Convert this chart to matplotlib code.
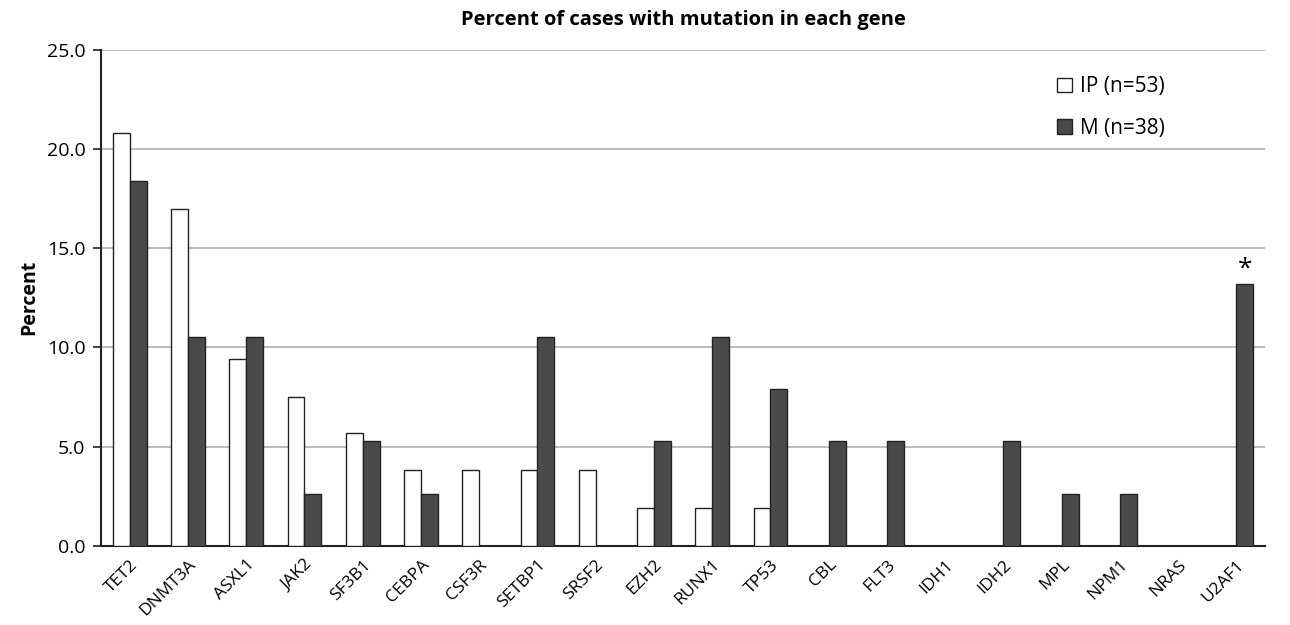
import numpy as np
import matplotlib.pyplot as plt

plt.rcParams['font.family'] = ['Open Sans', 'DejaVu Sans']

genes = ['TET2', 'DNMT3A', 'ASXL1', 'JAK2', 'SF3B1', 'CEBPA', 'CSF3R', 'SETBP1',
         'SRSF2', 'EZH2', 'RUNX1', 'TP53', 'CBL', 'FLT3', 'IDH1', 'IDH2', 'MPL',
         'NPM1', 'NRAS', 'U2AF1']
ip_pct = [20.8, 17.0, 9.4, 7.5, 5.7, 3.8, 3.8, 3.8, 3.8, 1.9, 1.9, 1.9,
          0, 0, 0, 0, 0, 0, 0, 0]
m_pct = [18.4, 10.5, 10.5, 2.6, 5.3, 2.6, 0, 10.5, 0, 5.3, 10.5, 7.9,
         5.3, 5.3, 0, 5.3, 2.6, 2.6, 0, 13.2]
labels = ['IP (n=53)', 'M (n=38)']

fig, ax = plt.subplots(figsize=(12.9, 6.25), dpi=100)
fig.subplots_adjust(left=0.078, right=0.981, top=0.92, bottom=0.127)

x = np.arange(len(genes))
w = 0.29
ax.bar(x - w/2, ip_pct, w, color='white', edgecolor='#222222', linewidth=1.0,
       label=labels[0], zorder=3)
bars_m = ax.bar(x + w/2, m_pct, w, color='#4a4a4a', edgecolor='#222222',
                linewidth=1.0, label=labels[1], zorder=3)

# significance marker on U2AF1
b = bars_m[-1]
ax.text(b.get_x() + b.get_width()/2, b.get_height() + 0.1, '*',
        ha='center', va='bottom', fontsize=19)

ax.set_xlim(-0.5, len(genes) - 0.5)
ax.set_ylim(0, 25)
ax.set_yticks(np.arange(0, 25.1, 5))
ax.set_yticklabels(['%.1f' % v for v in np.arange(0, 25.1, 5)], fontsize=14)
ax.set_xticks(x)
ax.set_xticklabels(genes, rotation=45, ha='right', rotation_mode='anchor', fontsize=12.5)
ax.tick_params(axis='x', length=0, pad=8)
ax.tick_params(axis='y', length=6, width=1.2, color='#222222', direction='out', pad=5)
ax.yaxis.grid(True, color='#b0b0b0', linewidth=1.2, zorder=0)
ax.set_axisbelow(True)

for s in ['top', 'right']:
    ax.spines[s].set_visible(False)
ax.spines['left'].set_linewidth(1.5)
ax.spines['left'].set_color('#222222')
ax.spines['bottom'].set_linewidth(1.5)
ax.spines['bottom'].set_color('#222222')

ax.set_ylabel('Percent', fontsize=14, fontweight='bold', labelpad=5)
ax.set_title('Percent of cases with mutation in each gene', fontsize=14.5,
             fontweight='bold', pad=18)

ax.legend(frameon=False, fontsize=15, loc='upper right', bbox_to_anchor=(0.93, 0.985),
          handlelength=0.7, handleheight=0.7, handletextpad=0.4, labelspacing=1.0)

plt.savefig('out.png', dpi=100)
